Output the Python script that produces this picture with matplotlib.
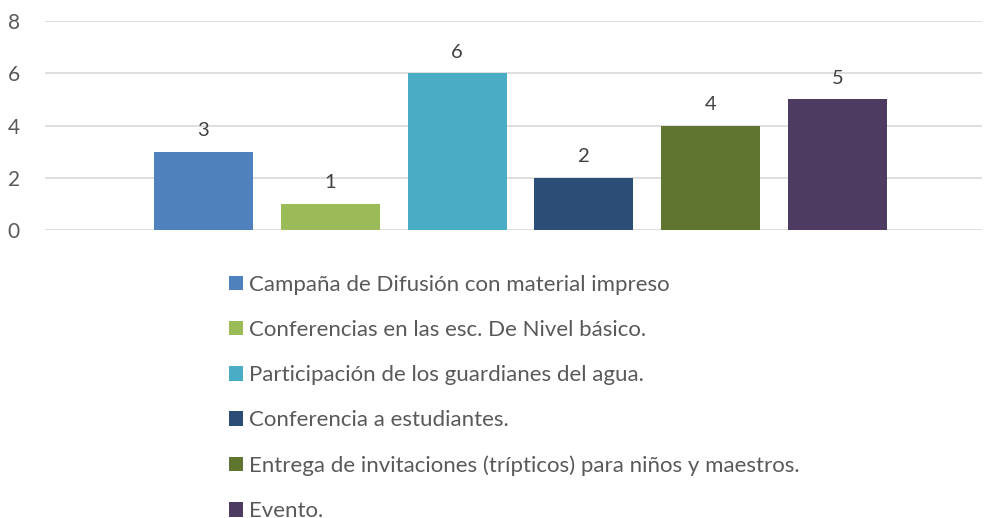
import matplotlib
matplotlib.use("Agg")
import matplotlib.pyplot as plt
from matplotlib.patches import Patch

labels = [
    "Campaña de Difusión con material impreso",
    "Conferencias en las esc. De Nivel básico.",
    "Participación de los guardianes del agua.",
    "Conferencia a estudiantes.",
    "Entrega de invitaciones (trípticos) para niños y maestros.",
    "Evento.",
]
values = [3, 1, 6, 2, 4, 5]
colors = ["#4F81BD", "#9BBB59", "#4BACC6", "#2C4D75", "#5F7530", "#4E3B62"]

plt.rcParams["font.family"] = ["Lato", "DejaVu Sans"]

fig = plt.figure(figsize=(9.85, 5.18), dpi=100)
ax = fig.add_axes([45 / 985, 288 / 518, 937 / 985, 209 / 518])

x = list(range(len(values)))
bars = ax.bar(x, values, width=0.78, color=colors, zorder=3)
for xi, v in zip(x, values):
    ax.text(xi, v + 0.48, str(v), ha="center", va="bottom",
            fontsize=14.5, color="#404040")

ax.set_xlim(-1.248, 5 + 1.138)
ax.set_ylim(0, 8)
ax.set_yticks([0, 2, 4, 6, 8])
ax.set_xticks([])
ax.yaxis.grid(True, color="#D9D9D9", linewidth=1.2, zorder=0)
for s in ax.spines.values():
    s.set_visible(False)
ax.tick_params(axis="y", length=0, labelsize=15, labelcolor="#595959", pad=18)

handles = [Patch(facecolor=c, edgecolor="none") for c in colors]
fig.legend(handles, labels, loc="upper left", bbox_to_anchor=(229 / 985, 1 - 275 / 518),
           frameon=False, ncol=1, fontsize=16, labelcolor="#595959",
           handlelength=0.62, handleheight=0.62, handletextpad=0.3,
           labelspacing=1.13, borderaxespad=0, borderpad=0)

fig.savefig("out.png", dpi=100)
